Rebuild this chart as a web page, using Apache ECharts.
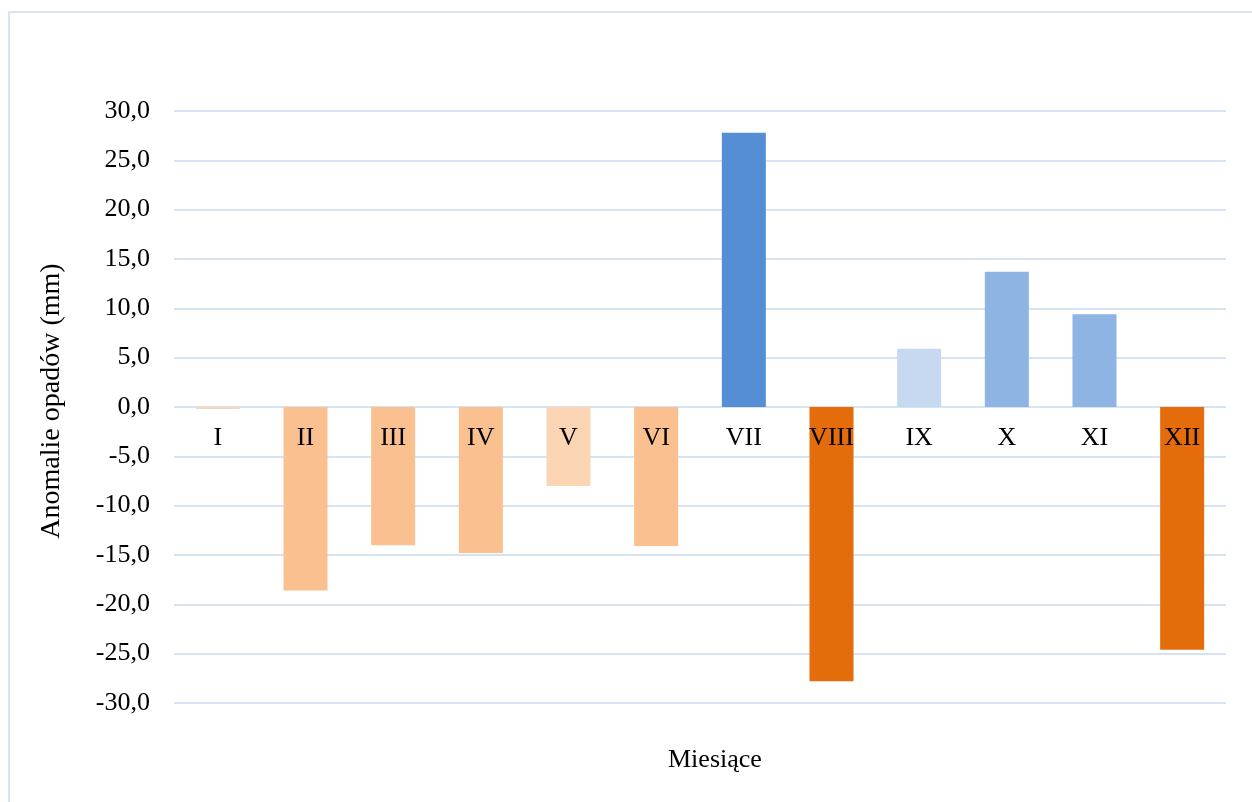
<!DOCTYPE html>
<html>
<head>
<meta charset="utf-8">
<script src="https://cdn.jsdelivr.net/npm/echarts@6/dist/echarts.min.js"></script>
<style>
  html, body { margin: 0; padding: 0; background: #fff; }
  #chart { width: 1252px; height: 802px; }
</style>
</head>
<body>
<div id="chart"></div>
<script>
// Monthly precipitation anomalies (mm)
const months = ['I', 'II', 'III', 'IV', 'V', 'VI', 'VII', 'VIII', 'IX', 'X', 'XI', 'XII'];
const anomalies = [-0.2, -18.6, -14.0, -14.8, -8.0, -14.1, 27.8, -27.8, 5.9, 13.7, 9.4, -24.6];
const yTicks = { min: -30, max: 30, step: 5 };
const xTitle = 'Miesiące';
const yTitle = 'Anomalie opadów (mm)';

// Fill colour for each month's bar
const barColors = ['#FBD4B4', '#FAC090', '#FAC090', '#FAC090', '#FCD5B5', '#FAC090',
                   '#558ED5', '#E46C0A', '#C6D9F1', '#8EB4E3', '#8EB4E3', '#E46C0A'];

const FONT = '"Liberation Serif", "Times New Roman", serif';
const LABEL_GAP = 18;
const chart = echarts.init(document.getElementById('chart'), null, { renderer: 'canvas' });

// Month names sit just under the zero line: for a negative bar that is inside
// its top edge, for a positive bar it is outside its bottom edge.
const barData = anomalies.map((v, i) => ({
  value: v,
  itemStyle: { color: barColors[i] },
  label: { position: v < 0 ? 'insideTop' : 'bottom' }
}));

chart.setOption({
  animation: false,
  backgroundColor: '#ffffff',
  textStyle: { fontFamily: FONT },
  grid: { left: 174, right: 26, top: 111, bottom: 99, containLabel: false },
  xAxis: {
    type: 'category',
    data: months,
    axisLine: { show: false },
    axisTick: { show: false },
    axisLabel: { show: false },
    splitLine: { show: false }
  },
  yAxis: {
    type: 'value',
    min: yTicks.min,
    max: yTicks.max,
    interval: yTicks.step,
    axisLine: { show: false },
    axisTick: { show: false },
    axisLabel: {
      color: '#000', fontSize: 26, fontFamily: FONT, margin: 24,
      formatter: v => v.toFixed(1).replace('.', ',')
    },
    splitLine: { lineStyle: { color: '#D6E3F3', width: 2 } }
  },
  series: [{
    type: 'bar',
    data: barData,
    barWidth: 44,
    label: {
      show: true,
      distance: LABEL_GAP,
      color: '#000',
      fontSize: 26,
      fontFamily: FONT,
      formatter: p => p.name
    }
  }],
  graphic: [
    {
      type: 'rect',
      shape: { x: 9, y: 12, width: 1400, height: 1000 },
      style: { fill: 'none', stroke: '#DAE5F3', lineWidth: 2 },
      silent: true
    },
    {
      type: 'text',
      left: 668, top: 747,
      style: { text: xTitle, font: '26px ' + FONT, fill: '#000' }
    },
    {
      type: 'text',
      x: 52, y: 401,
      rotation: Math.PI / 2,
      style: { text: yTitle, font: '28px ' + FONT, fill: '#000', align: 'center', verticalAlign: 'middle' }
    }
  ]
});
</script>
</body>
</html>
